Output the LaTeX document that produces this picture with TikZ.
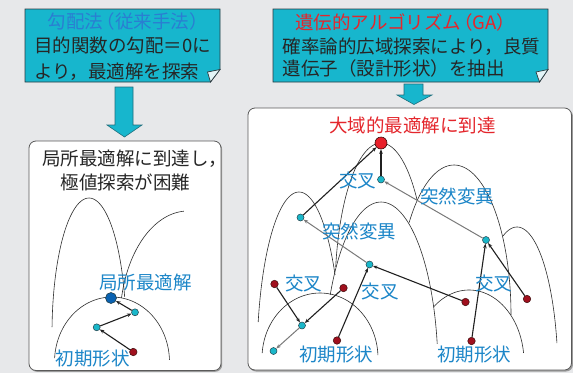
\documentclass[tikz,border=0pt]{standalone}
\usepackage{fontspec}
\setmainfont{Noto Sans CJK JP}
\usetikzlibrary{arrows.meta}
\definecolor{bgc}{HTML}{E7E8EA}
\definecolor{boxc}{HTML}{17B6CD}
\definecolor{boxline}{HTML}{2B3A40}
\definecolor{foldc}{HTML}{E4F5F8}
\definecolor{arrline}{HTML}{1F6E7C}
\definecolor{txtc}{HTML}{262626}
\definecolor{labblue}{HTML}{1C86C8}
\definecolor{titblue}{HTML}{2A7ED2}
\definecolor{labred}{HTML}{E4262C}
\definecolor{panelline}{HTML}{5A5A5A}
\definecolor{shadowc}{HTML}{9A9A9A}
\definecolor{arcc}{HTML}{2E2E2E}
\definecolor{dotcyan}{HTML}{1AB7C9}
\definecolor{dotline}{HTML}{24424C}
\definecolor{dotred}{HTML}{A0101E}
\definecolor{rdotline}{HTML}{3A0A0A}
\definecolor{bigred}{HTML}{E8202A}
\definecolor{bigblue}{HTML}{0A62B2}
\definecolor{linec}{HTML}{202020}
\definecolor{mutc}{HTML}{7A7A7A}
\newcommand\myarch[6]{\draw[arcl] plot[domain=#5:#6, samples=60, smooth, variable=\t] ({#1+#3*cos(\t)},{#2+#4-#4*sin(\t)});}
\begin{document}
\begin{tikzpicture}[x=1pt,y=-1pt, font=\fontsize{18.5}{22}\selectfont,
 jt/.style={inner sep=0pt, text height=15.4pt, text depth=1.3pt, text=txtc},
 blab/.style={jt, text=labblue},
 cdot/.style={circle, draw=dotline, line width=0.5pt, fill=dotcyan, minimum size=7pt, inner sep=0pt},
 rdot/.style={circle, draw=rdotline, line width=0.5pt, fill=dotred, minimum size=7.5pt, inner sep=0pt},
 conn/.style={draw=linec, line width=1.1pt, -{Stealth[length=4.5pt,width=3.6pt]}},
 mut/.style={draw=mutc, line width=1pt, -{Stealth[length=4.5pt,width=3.6pt]}},
 arcl/.style={draw=arcc, line width=0.6pt},
 panel/.style={draw=panelline, line width=0.8pt, fill=white, rounded corners=7pt},
 note/.style={draw=boxline, line width=0.7pt, fill=boxc},
 blockarrow/.style={draw=arrline, line width=0.6pt, fill=boxc}]
\useasboundingbox (0,0) rectangle (573,373);
\fill[bgc] (0,0) rectangle (573,373);
% top notes
\draw[note] (25,9) -- (220,9) -- (220,69.5) -- (210.5,82) -- (25,82) -- cycle;
\draw[note, fill=foldc] (207.5,72) -- (220,69.5) -- (210.5,82) -- cycle;
\draw[note] (273,9) -- (548,9) -- (548,69.5) -- (539.5,82) -- (273,82) -- cycle;
\draw[note, fill=foldc] (536,72) -- (548,69.5) -- (539.5,82) -- cycle;
% block arrows
\draw[blockarrow] (115,87) -- (133,87) -- (133,125) -- (142,125) -- (124.5,137) -- (107,125) -- (115,125) -- cycle;
\draw[blockarrow] (404,84) -- (423,84) -- (423,95) -- (432,95) -- (414,104.5) -- (397,95) -- (404,95) -- cycle;
% panels
\fill[shadowc, rounded corners=7pt] (30,142.5) rectangle (222.2,371.8);
\draw[panel] (29,141) rectangle (221,370.5);
\fill[shadowc, rounded corners=7pt] (249,109.5) rectangle (573,371.5);
\draw[panel] (248,108) rectangle (571.5,370);
% texts in notes
\node[jt, text=titblue] (lt0) at (124.5,21.5) {勾配法\kern-.35em（従来手法）\kern-.35em};
\node[jt, anchor=west] (lt1) at (34,45) {目的関数の勾配＝0に};
\node[jt, anchor=west] (lt2) at (34,71) {より，最適解を探索};
\node[jt, text=labred] (rt0) at (401.5,22) {遺伝的アルゴリズム\kern-.4em（GA）\kern-.4em};
\node[jt, anchor=west] (rt1) at (282.5,46.5) {確率論的広域探索により，良質};
\node[jt, anchor=west] (rt2) at (282.5,68.5) {遺伝子（設計形状）を抽出};
% left panel
\node[jt, anchor=west] (lp1) at (42,158.5) {局所最適解に到達し，};
\node[jt, anchor=west] (lp2) at (60.5,182.5) {極値探索が困難};
\myarch{89}{198}{37}{135}{15.5}{177.5}
\myarch{188}{211}{68}{110}{93.5}{167.9}
\myarch{112}{297}{57.5}{65}{1.8}{176.5}
\node[circle, draw=dotline, line width=0.6pt, fill=bigblue, minimum size=11pt, inner sep=0pt] (lopt) at (111,298) {};
\node[cdot] (lc1) at (135,312.3) {};
\node[cdot] (lc2) at (96.7,327.3) {};
\node[rdot] (lr) at (133.3,352) {};
\draw[conn] (lr) -- (lc2);
\draw[conn] (lc2) -- (lc1);
\draw[conn] (lc1) -- (lopt);
\node[blab] (llab1) at (145.5,282) {局所最適解};
\node[blab] (llab2) at (92.5,358) {初期形状};
% right panel
\node[jt, text=labred] (rp0) at (412.5,125.5) {大域的最適解に到達};
\myarch{381}{143}{46}{150}{38}{170}
\myarch{299}{192}{42}{170}{30.8}{166.4}
\myarch{381}{202}{57}{170}{9.5}{153}
\myarch{454}{165}{57}{150}{0}{142}
\myarch{517}{227}{41}{150}{13.1}{110}
\myarch{469}{290}{55}{72}{7.2}{130}
\myarch{320}{293}{58}{65}{2.6}{175.6}
\node[circle, draw=rdotline, line width=0.6pt, fill=bigred, minimum size=12pt, inner sep=0pt] (G) at (381,143) {};
\node[cdot] (A) at (381,179.5) {};
\node[cdot] (B) at (300.5,217.5) {};
\node[cdot] (C) at (369.5,264.5) {};
\node[cdot] (D) at (486,240) {};
\node[cdot] (E) at (302,325.5) {};
\node[cdot] (F) at (273.5,351) {};
\node[rdot] (R1) at (274.5,284) {};
\node[rdot] (R2) at (343.5,288) {};
\node[rdot] (R3) at (337,340.5) {};
\node[rdot] (R4) at (465.5,302) {};
\node[rdot] (R5) at (527,299) {};
\node[rdot] (R6) at (471.5,341) {};
\draw[conn] (A) -- (G);
\draw[conn] (B) -- (G);
\draw[mut] (D) -- (A);
\draw[mut] (C) -- (B);
\draw[mut] (E) -- (F);
\draw[conn] (R6) -- (D);
\draw[conn] (R5) -- (D);
\draw[conn] (R4) -- (C);
\draw[conn] (R3) -- (C);
\draw[conn] (R1) -- (E);
\draw[conn] (R2) -- (E);
\node[blab] (x1) at (357.5,180) {交叉};
\node[blab] (m1) at (359,231) {突然変異};
\node[blab] (m2) at (457,196) {突然変異};
\node[blab] (x2) at (303.5,283.5) {交叉};
\node[blab] (x3) at (380,291) {交叉};
\node[blab] (x4) at (493.5,283.5) {交叉};
\node[blab] (s1) at (336,354) {初期形状};
\node[blab] (s2) at (474,354) {初期形状};
\end{tikzpicture}
\end{document}
